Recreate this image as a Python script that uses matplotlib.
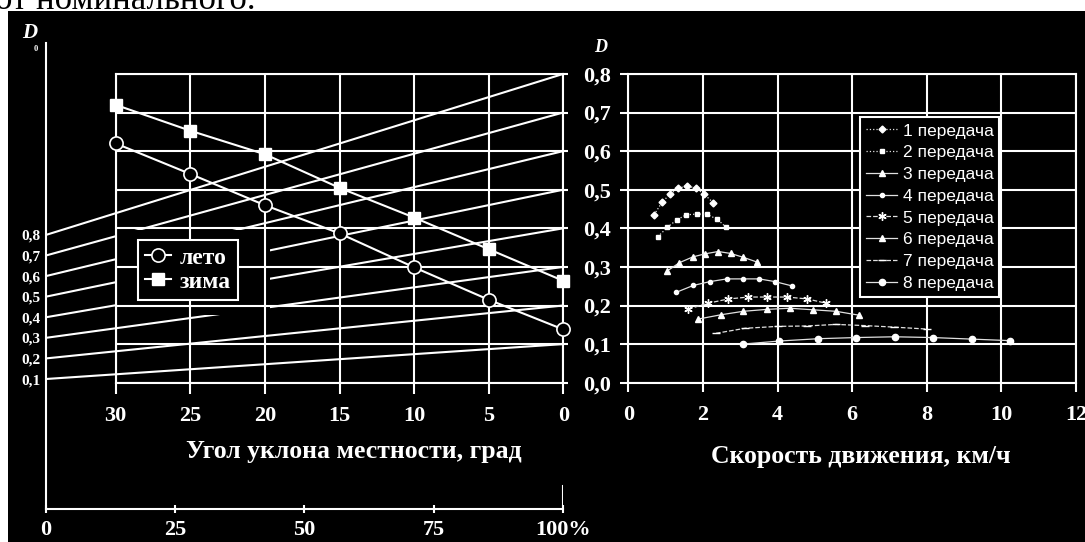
import matplotlib
matplotlib.use("Agg")
import matplotlib.pyplot as plt
from matplotlib.patches import Rectangle

plt.rcParams['font.family'] = ['Liberation Serif', 'DejaVu Serif']
plt.rcParams['font.weight'] = 'bold'

W, H = 1085, 542

# left chart: slope angle vs D
slope_deg = [30, 25, 20, 15, 10, 5, 0]
d_summer = [0.620, 0.541, 0.460, 0.387, 0.299, 0.215, 0.138]
d_winter = [0.720, 0.653, 0.592, 0.505, 0.428, 0.346, 0.264]

# nomogram D0 -> D (load percent)
d0_levels = [0.1, 0.2, 0.3, 0.4, 0.5, 0.6, 0.7, 0.8]
d0_labels = ['0,1', '0,2', '0,3', '0,4', '0,5', '0,6', '0,7', '0,8']
load_ticks = [0, 25, 50, 75, 100]
load_labels = ['0', '25', '50', '75', '100%']
D0_SCALE = 0.533
D0_SHIFT = -0.0438

# right chart: speed vs D per gear
gear_speed = [
    [0.69, 0.90, 1.12, 1.34, 1.58, 1.81, 2.03, 2.28],
    [0.79, 1.05, 1.30, 1.55, 1.83, 2.10, 2.39, 2.62],
    [1.05, 1.37, 1.73, 2.06, 2.41, 2.74, 3.08, 3.44],
    [1.28, 1.74, 2.19, 2.64, 3.07, 3.51, 3.93, 4.38],
    [1.61, 2.14, 2.68, 3.22, 3.73, 4.26, 4.80, 5.30],
    [1.88, 2.48, 3.08, 3.71, 4.33, 4.94, 5.57, 6.18],
    [2.35, 3.13, 4.02, 4.78, 5.57, 6.34, 7.13, 8.00],
    [3.07, 4.05, 5.09, 6.10, 7.14, 8.16, 9.20, 10.23],
]
gear_d = [
    [0.435, 0.467, 0.489, 0.504, 0.510, 0.504, 0.489, 0.466],
    [0.378, 0.403, 0.422, 0.435, 0.437, 0.437, 0.423, 0.403],
    [0.290, 0.311, 0.326, 0.334, 0.340, 0.335, 0.325, 0.313],
    [0.234, 0.252, 0.262, 0.269, 0.269, 0.269, 0.262, 0.251],
    [0.191, 0.206, 0.217, 0.222, 0.222, 0.222, 0.217, 0.206],
    [0.165, 0.176, 0.185, 0.190, 0.193, 0.189, 0.185, 0.175],
    [0.128, 0.141, 0.146, 0.147, 0.151, 0.148, 0.144, 0.139],
    [0.100, 0.108, 0.114, 0.117, 0.119, 0.117, 0.113, 0.109],
]
gear_labels = ['%d передача' % i for i in range(1, 9)]
gear_markers = ['D', 's', '^', 'o', (6, 2, 0), '^', '_', 'o']
gear_msize = [3.5, 3.5, 5, 3, 6, 5, 6, 4.5]
gear_ls = [':', ':', '-', '-', '--', '-', '--', '-']

d_ticks = [0, 0.1, 0.2, 0.3, 0.4, 0.5, 0.6, 0.7, 0.8]
d_labels = ['0,0', '0,1', '0,2', '0,3', '0,4', '0,5', '0,6', '0,7', '0,8']


def fx(px):
    return px / W


def fy(py):
    return 1 - py / H


fig = plt.figure(figsize=(W / 100, H / 100), dpi=100, facecolor='white')
fig.add_artist(Rectangle((fx(8), 0), 1 - fx(8), fy(11), transform=fig.transFigure,
                         facecolor='black', edgecolor='none', zorder=0))
# caption of the page above the chart, cut by the top edge
fig.text(fx(-5), fy(9), 'от номинального.', fontsize=25, fontweight='normal',
         color='black', va='baseline', ha='left')

# ---- nomogram (D0 axis + load axis) ----
ax0 = fig.add_axes([fx(45.7), fy(509.3), fx(563.3) - fx(45.7), (509.3 - 43) / H])
ax0.set_facecolor('none')
ax0.set_xlim(0, 100)
ax0.set_ylim(-0.328, 0.880)
for s in ['top', 'right']:
    ax0.spines[s].set_visible(False)
for s in ['left', 'bottom']:
    ax0.spines[s].set_color('white')
    ax0.spines[s].set_linewidth(1.5)
for v in d0_levels:
    ax0.plot([0, 100], [D0_SHIFT + D0_SCALE * v, v], color='white', lw=1.5, zorder=2)
ax0.add_patch(Rectangle((13.6, 0.175), 29.7, 0.221, facecolor='black',
                        edgecolor='none', zorder=3))
ax0.axvline(100, 0, 0.05, color='white', lw=1.5)
ax0.set_yticks([D0_SHIFT + D0_SCALE * v for v in d0_levels], d0_labels)
ax0.set_xticks(load_ticks, load_labels)
ax0.tick_params(axis='y', length=0, pad=4, labelsize=11, labelcolor='white')
ax0.tick_params(axis='x', direction='inout', length=5.8, width=1.5, color='white',
                pad=5, labelsize=16, labelcolor='white')

fig.text(fx(30), fy(33), 'D', fontsize=15, fontstyle='italic', color='white',
         ha='center', va='center')
fig.text(fx(36), fy(49), '0', fontsize=6, color='white', ha='center', va='center')

# ---- left chart ----
ax1 = fig.add_axes([fx(115.7), fy(382.7), (563.3 - 115.7) / W, (382.7 - 74) / H])
ax1.set_facecolor('none')
ax1.set_xlim(30, 0)
ax1.set_ylim(0, 0.8)
ax1.set_xticks(slope_deg)
ax1.set_yticks(d_ticks)
ax1.grid(True, color='white', lw=1.5)
for s in ax1.spines.values():
    s.set_color('white')
    s.set_linewidth(1.5)
ax1.tick_params(axis='x', direction='out', length=7.6, width=1.5, color='white',
                pad=9, labelsize=16, labelcolor='white')
ax1.tick_params(axis='y', left=False, labelleft=False, right=True, direction='out',
                length=3.6, width=1.5, color='white')
ax1.plot(slope_deg, d_summer, color='white', lw=1.5, marker='o', ms=9.5,
         mfc='black', mec='white', mew=1.2, label='лето', zorder=4, clip_on=False)
ax1.plot(slope_deg, d_winter, color='white', lw=1.5, marker='s', ms=8.5,
         mfc='white', mec='white', label='зима', zorder=4, clip_on=False)
leg1 = ax1.legend(loc='upper left', bbox_to_anchor=(fx(138.3), fy(240)),
                  bbox_transform=fig.transFigure, borderaxespad=0, fancybox=False,
                  facecolor='black', edgecolor='white', framealpha=1,
                  prop={'size': 17, 'weight': 'bold'}, handlelength=1.1,
                  handletextpad=0.35, borderpad=0.3, labelspacing=0.1)
leg1.get_frame().set_linewidth(1.5)
for t in leg1.get_texts():
    t.set_color('white')

fig.text(fx(354), fy(451.7), 'Угол уклона местности, град', fontsize=18.5,
         color='white', ha='center', va='center')

# ---- right chart ----
ax2 = fig.add_axes([fx(628.3), fy(382.7), (1076 - 628.3) / W, (382.7 - 74) / H])
ax2.set_facecolor('none')
ax2.set_xlim(0, 12)
ax2.set_ylim(0, 0.8)
ax2.set_xticks(range(0, 13, 2))
ax2.set_yticks(d_ticks, d_labels)
ax2.grid(True, color='white', lw=1.5)
for s in ax2.spines.values():
    s.set_color('white')
    s.set_linewidth(1.5)
ax2.tick_params(axis='x', direction='out', length=6.3, width=1.5, color='white',
                pad=10, labelsize=16, labelcolor='white')
ax2.tick_params(axis='y', direction='out', length=5.8, width=1.5, color='white',
                pad=7, labelsize=16, labelcolor='white')
for i in range(8):
    ax2.plot(gear_speed[i], gear_d[i], color='#e0e0e0', lw=0.9, ls=gear_ls[i],
             marker=gear_markers[i], ms=gear_msize[i], mfc='white', mec='white',
             mew=1, label=gear_labels[i], zorder=4)
leg2 = ax2.legend(loc='upper left', bbox_to_anchor=(fx(860), fy(117.3)),
                  bbox_transform=fig.transFigure, borderaxespad=0, fancybox=False,
                  facecolor='black', edgecolor='white', framealpha=1,
                  prop={'family': 'Liberation Sans', 'size': 12.5, 'weight': 'normal'},
                  handlelength=1.8, handletextpad=0.3, borderpad=0.35,
                  labelspacing=0.38)
leg2.get_frame().set_linewidth(1.5)
for t in leg2.get_texts():
    t.set_color('white')

fig.text(fx(601), fy(48), 'D', fontsize=13, fontstyle='italic', color='white',
         ha='center', va='center')
fig.text(fx(861), fy(456.7), 'Скорость движения, км/ч', fontsize=18.5,
         color='white', ha='center', va='center')

fig.savefig('out.png', dpi=100, facecolor=fig.get_facecolor())
